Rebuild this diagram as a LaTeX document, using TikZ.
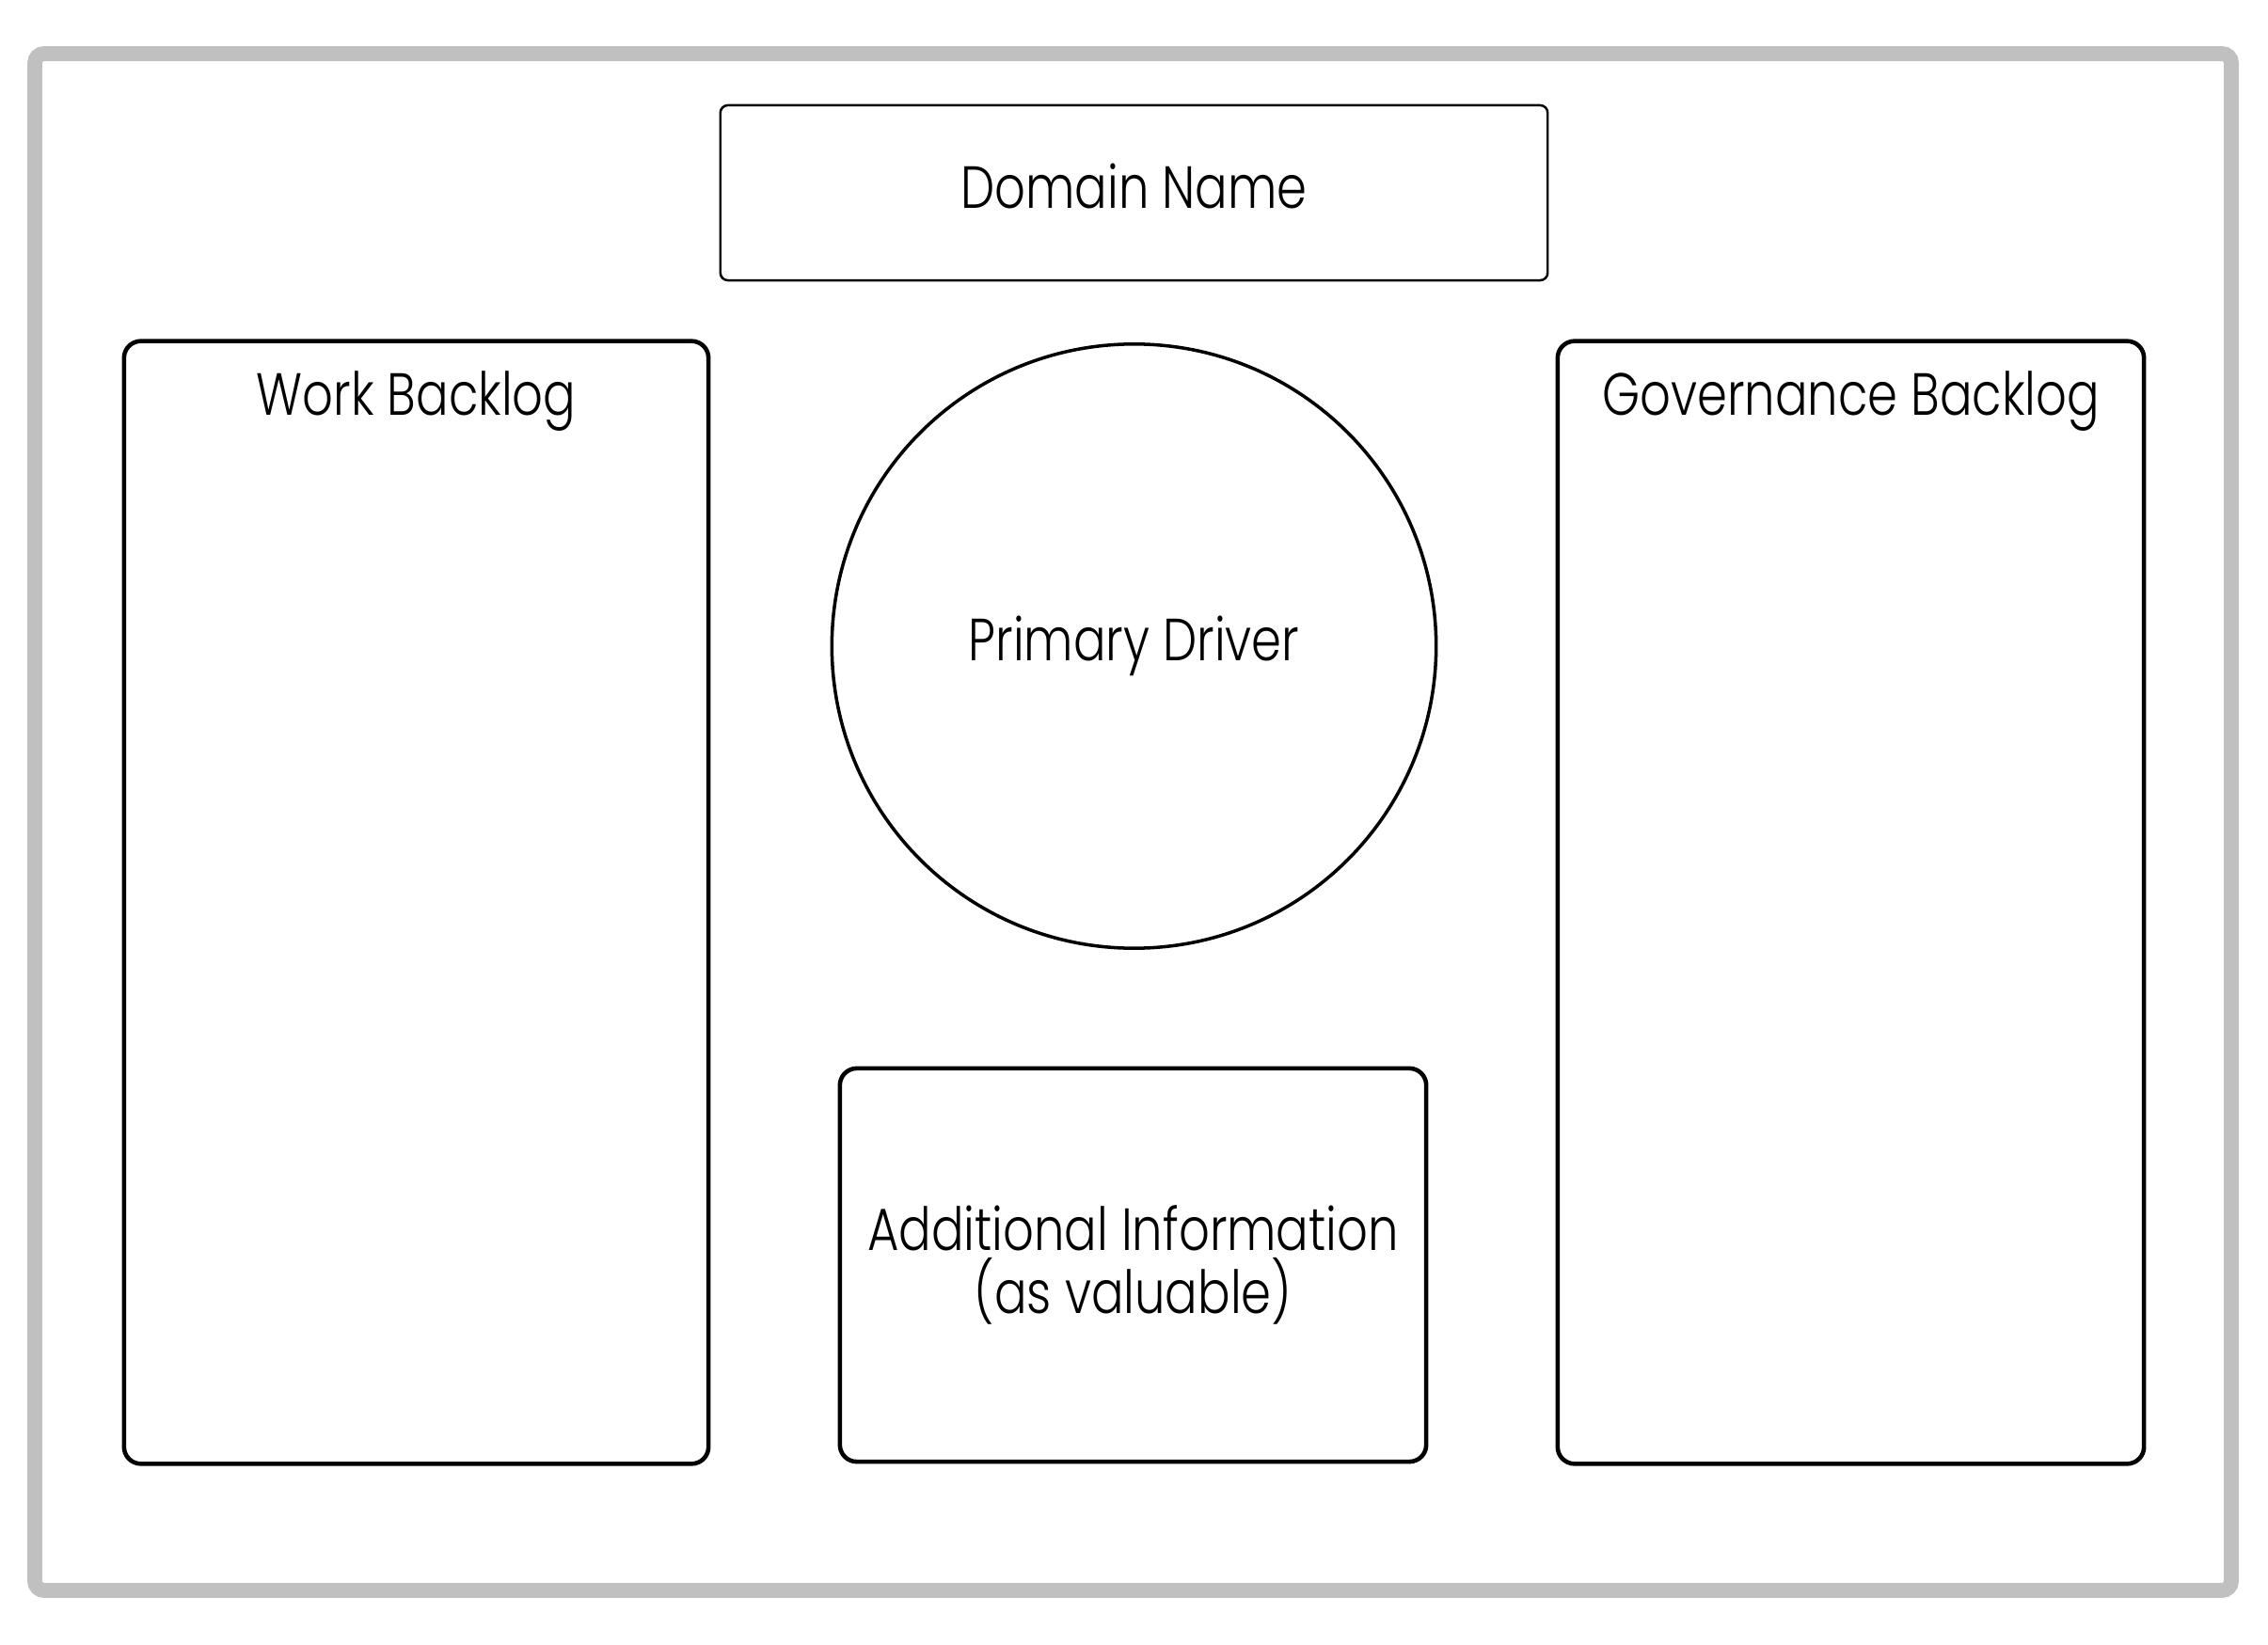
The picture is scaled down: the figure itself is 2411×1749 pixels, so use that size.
\documentclass[tikz,border=0pt]{standalone}
\usepackage{fontspec}
\setmainfont{Poppins}[UprightFont={* Light}, FakeStretch=0.81]
\usetikzlibrary{positioning}
\definecolor{framegray}{RGB}{192,192,192}

\begin{document}
\begin{tikzpicture}[x=0.01cm, y=-0.01cm,
    panel/.style={draw, line width=1.3pt, rounded corners=0.18cm, inner sep=0pt},
    title/.style={anchor=base, inner sep=0pt, font=\fontsize{18}{19}\selectfont}]
    \useasboundingbox (0,0) rectangle (2411,1749);
    \draw[framegray, line width=4.5pt, rounded corners=0.1cm] (37,57) rectangle (2372,1691);

    \node[panel, line width=0.7pt, rounded corners=0.08cm, minimum width=8.79cm, minimum height=1.86cm,
          label={[title, name=domaintitle, yshift=-1.11cm]north:Domain Name}] (domain) at (1205.5,205) {};
    \node[panel, minimum width=6.21cm, minimum height=11.93cm,
          label={[title, name=worktitle, yshift=-0.81cm]north:Work Backlog}] (work) at (442.5,959.5) {};
    \node[panel, minimum width=6.23cm, minimum height=11.93cm,
          label={[title, name=govtitle, yshift=-0.81cm]north:Governance Backlog}] (gov) at (1967.5,959.5) {};
    \node[draw, circle, line width=1pt, minimum size=6.42cm, inner sep=0pt,
          font=\fontsize{18}{19}\selectfont] (driver) at (1205.5,687) {Primary Driver};
    \node[panel, minimum width=6.23cm, minimum height=4.18cm, align=center,
          font=\fontsize{18}{19}\selectfont] (info) at (1204.5,1345) {Additional Information\\(as valuable)};
\end{tikzpicture}
\end{document}
